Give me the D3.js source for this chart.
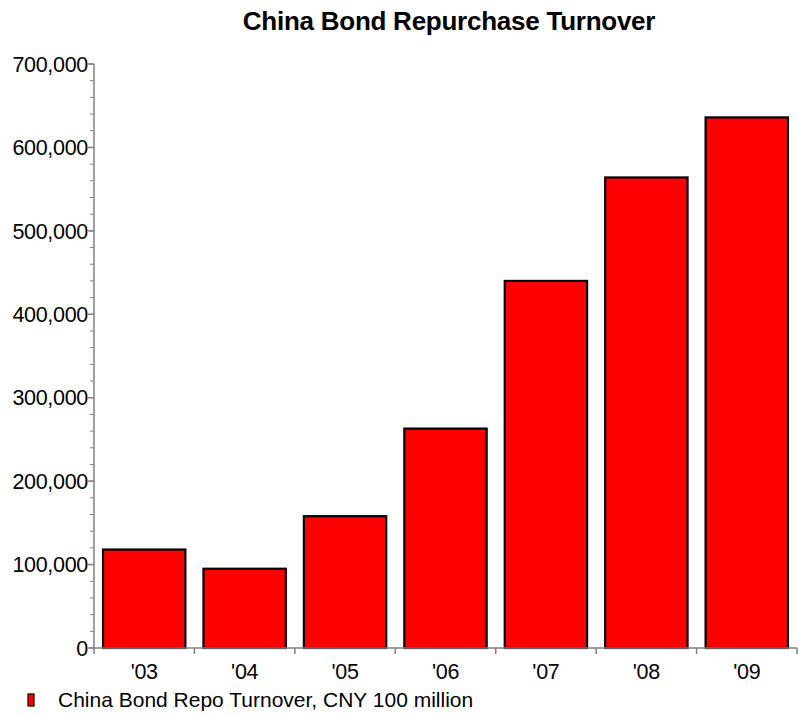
<!DOCTYPE html>
<html>
<head>
<meta charset="utf-8">
<script src="https://cdn.jsdelivr.net/npm/d3@7"></script>
<style>
  body { margin: 0; background: #fff; }
  svg text { font-family: "Liberation Sans", Arial, sans-serif; fill: #000; }
</style>
</head>
<body>
<div id="chart"></div>
<script>
// data
var years = ["'03", "'04", "'05", "'06", "'07", "'08", "'09"]
var turnover = [118000, 95000, 158000, 263000, 440000, 564000, 636000]
var yTicks = [0, 100000, 200000, 300000, 400000, 500000, 600000, 700000]
var title = "China Bond Repurchase Turnover"
var legendLabel = "China Bond Repo Turnover, CNY 100 million"

var W = 799, H = 715
var margin = {top: 64, right: 2, bottom: 67, left: 94}
var width = W - margin.left - margin.right,
    height = H - margin.top - margin.bottom

var svg = d3.select("#chart").append("svg")
  .attr("width", W)
  .attr("height", H)

svg.append("text")
  .attr("x", 449).attr("y", 30)
  .attr("text-anchor", "middle")
  .style("font-size", "26px")
  .style("font-weight", "bold")
  .style("letter-spacing", "-0.25px")
  .text(title)

var g = svg.append("g")
  .attr("transform", "translate(" + margin.left + "," + margin.top + ")")

var x = d3.scaleBand()
  .domain(years)
  .range([0, width])
  .paddingInner(0.18)
  .paddingOuter(0.09)

var y = d3.scaleLinear()
  .domain([0, 700000])
  .range([height, 0])

// ticks on x sit on the category boundaries
var step = width / years.length

// bars
g.selectAll("rect.bar")
  .data(turnover)
  .enter()
  .append("rect")
    .attr("class", "bar")
    .attr("x", function(d, i){ return x(years[i]) })
    .attr("y", function(d){ return y(d) })
    .attr("width", x.bandwidth())
    .attr("height", function(d){ return height - y(d) })
    .style("fill", "#ff0000")
    .attr("stroke", "#000")
    .attr("stroke-width", 2.2)

// y axis
var yMinor = d3.range(0, 700001, 20000)
g.append("line")
  .attr("x1", 0).attr("x2", 0)
  .attr("y1", 0).attr("y2", height)
  .attr("stroke", "#808080").attr("stroke-width", 1.5)
g.selectAll("line.yminor")
  .data(yMinor)
  .enter().append("line")
    .attr("x1", -4).attr("x2", 0)
    .attr("y1", function(d){ return y(d) })
    .attr("y2", function(d){ return y(d) })
    .attr("stroke", "#808080")
g.selectAll("line.ymajor")
  .data(yTicks)
  .enter().append("line")
    .attr("x1", -6).attr("x2", 0)
    .attr("y1", function(d){ return y(d) })
    .attr("y2", function(d){ return y(d) })
    .attr("stroke", "#808080").attr("stroke-width", 1.5)
g.selectAll("text.ylab")
  .data(yTicks)
  .enter().append("text")
    .attr("x", -6)
    .attr("y", function(d){ return y(d) })
    .attr("dy", "0.36em")
    .attr("text-anchor", "end")
    .style("font-size", "21.5px")
    .style("letter-spacing", "-0.3px")
    .text(function(d){ return d3.format(",")(d) })

// x axis
g.append("line")
  .attr("x1", 0).attr("x2", width)
  .attr("y1", height).attr("y2", height)
  .attr("stroke", "#808080").attr("stroke-width", 1.5)
g.selectAll("line.xtick")
  .data(d3.range(years.length + 1))
  .enter().append("line")
    .attr("x1", function(i){ return i * step })
    .attr("x2", function(i){ return i * step })
    .attr("y1", height).attr("y2", height + 6)
    .attr("stroke", "#808080").attr("stroke-width", 1.5)
g.selectAll("text.xlab")
  .data(years)
  .enter().append("text")
    .attr("x", function(d){ return x(d) + x.bandwidth() / 2 })
    .attr("y", height + 31)
    .attr("text-anchor", "middle")
    .style("font-size", "21.5px")
    .style("letter-spacing", "-0.3px")
    .text(function(d){ return d })

// legend
svg.append("rect")
  .attr("x", 28).attr("y", 694)
  .attr("width", 6).attr("height", 12)
  .style("fill", "#ff0000")
  .attr("stroke", "#000").attr("stroke-width", 1.2)
svg.append("text")
  .attr("x", 58).attr("y", 707)
  .style("font-size", "21px")
  .text(legendLabel)
</script>
</body>
</html>
